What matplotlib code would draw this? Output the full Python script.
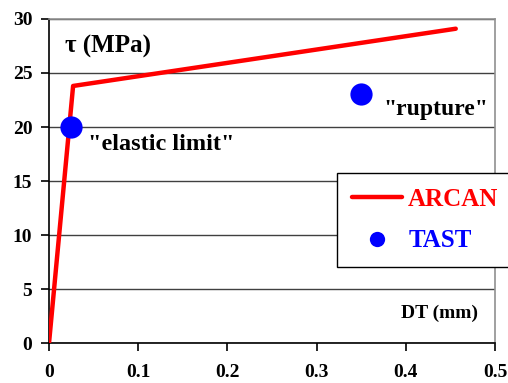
import matplotlib
matplotlib.use("Agg")
import matplotlib.pyplot as plt
from matplotlib.lines import Line2D

plt.rcParams['font.family'] = ['Liberation Serif', 'DejaVu Serif']
plt.rcParams['font.weight'] = 'bold'

# ARCAN bilinear shear curve: displacement DT (mm) vs shear stress tau (MPa)
arcan_dt = [0.0, 0.027, 0.456]
arcan_tau = [0.0, 23.8, 29.1]

# TAST measured points: elastic limit and rupture
tast_dt = [0.025, 0.35]
tast_tau = [20.0, 23.1]

x_ticks = [0, 0.1, 0.2, 0.3, 0.4, 0.5]
x_labels = ["0", "0.1", "0.2", "0.3", "0.4", "0.5"]
y_ticks = [0, 5, 10, 15, 20, 25, 30]

fig = plt.figure(figsize=(5.08, 3.83), dpi=100)
ax = fig.add_axes([0.0965, 0.1044, 0.8779, 0.846])

ax.plot(arcan_dt, arcan_tau, color='#ff0000', lw=3.2, solid_capstyle='round',
        zorder=3)
ax.plot(tast_dt, tast_tau, 'o', color='#0000ff', ms=16, mec='none', zorder=4)

ax.set_xlim(0, 0.5)
ax.set_ylim(0, 30)
ax.set_xticks(x_ticks)
ax.set_xticklabels(x_labels)
ax.set_yticks(y_ticks)

ax.yaxis.grid(True, color='#404040', lw=1.0)
ax.set_axisbelow(True)

for s in ('left', 'bottom'):
    ax.spines[s].set_color('black')
    ax.spines[s].set_linewidth(1.2)
for s in ('top', 'right'):
    ax.spines[s].set_color('#909090')
    ax.spines[s].set_linewidth(1.2)

ax.tick_params(axis='x', direction='out', length=6, width=1.2, pad=9,
               labelsize=14, top=False)
ax.tick_params(axis='y', direction='out', length=6, width=1.2, pad=6,
               labelsize=14, right=False)
for lab in ax.get_xticklabels() + ax.get_yticklabels():
    lab.set_fontweight('bold')

# Axis titles placed inside the plot area
fig.text(65 / 508, 1 - 53 / 383, "τ (MPa)", fontsize=18, fontweight='bold',
         ha='left', va='baseline')
fig.text(478 / 508, 1 - 318 / 383, "DT (mm)", fontsize=14, fontweight='bold',
         ha='right', va='baseline')

# Point annotations
fig.text(88 / 508, 1 - 150 / 383, '"elastic limit"', fontsize=17.5,
         fontweight='bold', ha='left', va='baseline')
fig.text(383 / 508, 1 - 115 / 383, '"rupture"', fontsize=17,
         fontweight='bold', ha='left', va='baseline')

handles = [Line2D([], [], color='#ff0000', lw=3.2, solid_capstyle='round'),
           Line2D([], [], ls='none', marker='o', color='#0000ff', ms=11,
                  mec='none')]
leg = fig.legend(handles, ['ARCAN', 'TAST'], loc='upper left',
                 bbox_to_anchor=(337 / 508, 1 - 172.7 / 383),
                 frameon=True, fancybox=False, shadow=False,
                 prop={'family': 'Liberation Serif', 'weight': 'bold',
                       'size': 18},
                 handlelength=2.0, handletextpad=0.25, labelspacing=0.75,
                 borderpad=0.6, borderaxespad=0.0, framealpha=1)
leg.get_frame().set_edgecolor('black')
leg.get_frame().set_linewidth(1.0)
for txt, col in zip(leg.get_texts(), ['#ff0000', '#0000ff']):
    txt.set_color(col)

fig.savefig('out.png', dpi=100)
